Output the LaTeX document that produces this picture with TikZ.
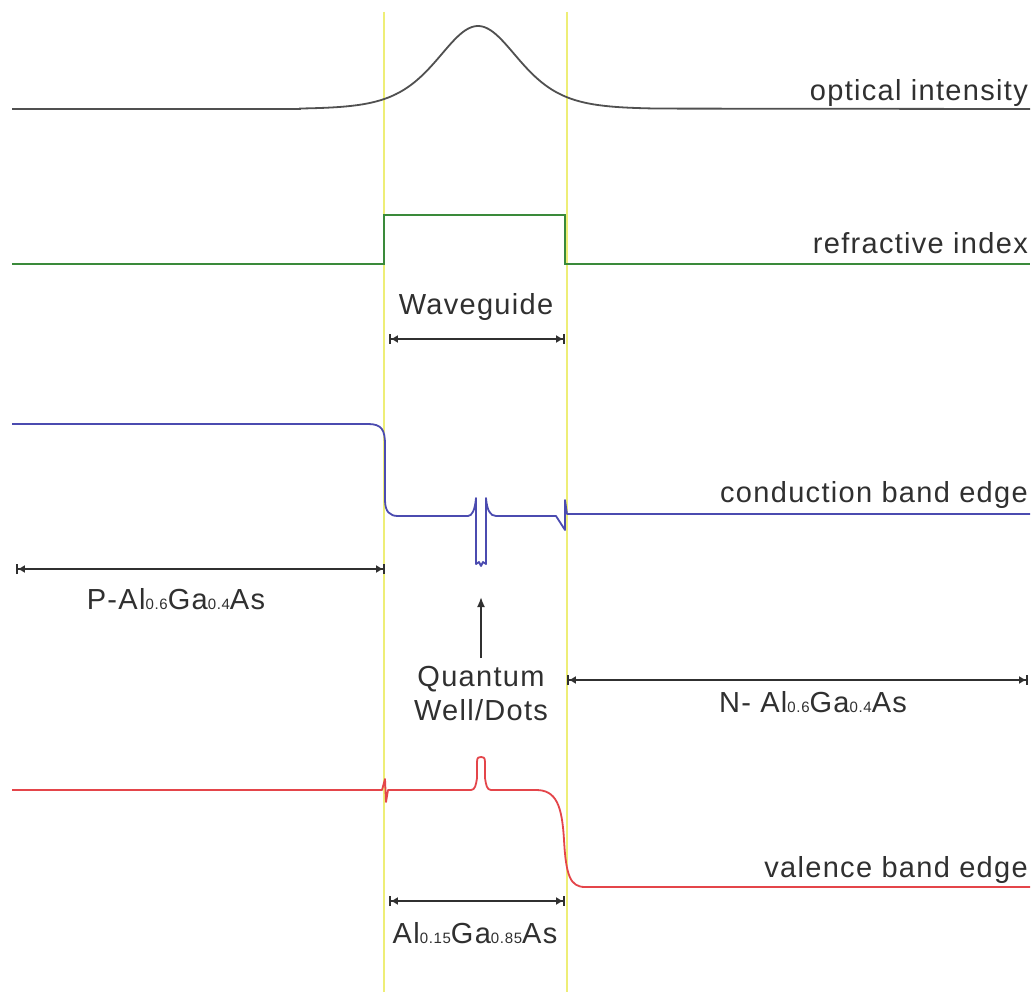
\documentclass[tikz,border=0pt]{standalone}
\usepackage{fontspec}
\setmainfont{Liberation Sans}[LetterSpace=4.5]
\usetikzlibrary{arrows.meta}
\definecolor{guide}{HTML}{EEEE77}
\definecolor{optc}{HTML}{505050}
\definecolor{refc}{HTML}{3A8A3A}
\definecolor{cbc}{HTML}{4B4BB0}
\definecolor{vbc}{HTML}{E4454A}
\definecolor{txt}{HTML}{303030}
\newcommand\sbs[1]{{\fontsize{15}{15}\selectfont #1}}
\tikzset{
  lbl/.style={text=txt, inner sep=0pt, font=\fontsize{29}{34}\selectfont},
  dim/.style={draw=txt, line width=1.8pt, {Bar[width=10pt]Latex[length=7pt,width=8pt]}-{Latex[length=7pt,width=8pt]Bar[width=10pt]}},
}
\begin{document}
\begin{tikzpicture}[x=1pt,y=-1pt]
\useasboundingbox[fill=white] (0,0) rectangle (1034,992);
% guide lines
\draw[guide, line width=1.3pt] (384,12) -- (384,992);
\draw[guide, line width=1.3pt] (567,12) -- (567,992);
% optical intensity
\draw[optc, line width=1.8pt] (12,109) -- (300,109)
  -- plot[domain=300:660, samples=200] (\x, {109-83*4/(exp((\x-478)/54.5)+exp(-(\x-478)/54.5))^2})
  -- (1030,109);
% refractive index
\draw[refc, line width=1.8pt] (12,264) -- (384,264) -- (384,215) -- (565,215) -- (565,264) -- (1030,264);
% conduction band
\draw[cbc, line width=1.8pt, line join=round] (12,424) -- (368,424)
  .. controls (382,424) and (385,430) .. (385,445) -- (385,500)
  .. controls (385,512) and (390,516) .. (398,516) -- (468,516)
  .. controls (472,516) and (475,510) .. (476,498) -- (476,564) -- (479,562) -- (481,566) -- (483,562) -- (486,564) -- (486,498)
  .. controls (487,510) and (490,516) .. (496,516) -- (556,516) -- (565,530) -- (565,500) -- (567,514) -- (1030,514);
% valence band
\draw[vbc, line width=1.8pt, line join=round] (12,790) -- (382,790) -- (385,779) -- (386,802) -- (388,790) -- (471,790)
  .. controls (475,790) and (476,785) .. (477,778) -- (477,762) .. controls (477,757) and (479,757) .. (481,757)
  .. controls (483,757) and (485,757) .. (485,762) -- (485,778) .. controls (486,785) and (487,790) .. (491,790)
  -- (536,790) .. controls (556,790) and (562,805) .. (564,840) .. controls (566,875) and (570,887) .. (585,887) -- (1030,887);
% dimension arrows
\coordinate (wgL) at (389,339); \coordinate (wgR) at (565,339);
\draw[dim] (wgL) -- (wgR);
\node[lbl, anchor=base] (wg) at (476,315) {Waveguide};
\coordinate (pL) at (16,569); \coordinate (pR) at (385,569);
\draw[dim] (pL) -- (pR);
\node[lbl, anchor=base] (pl) at (176,609) {P-Al\sbs{0.6}Ga\sbs{0.4}As};
\coordinate (nL) at (567,680); \coordinate (nR) at (1028,680);
\draw[dim] (nL) -- (nR);
\node[lbl, anchor=base] (nl) at (813,712) {N- Al\sbs{0.6}Ga\sbs{0.4}As};
\coordinate (aL) at (389,901); \coordinate (aR) at (565,901);
\draw[dim] (aL) -- (aR);
\node[lbl, anchor=base] (al) at (475,943) {Al\sbs{0.15}Ga\sbs{0.85}As};
% quantum well label
\node[lbl, align=center, anchor=north] (qw) at (481,666) {Quantum\\Well/Dots};
\coordinate (qtip) at (481,597);
\draw[draw=txt, line width=1.8pt, -{Latex[length=10pt,width=8pt]}] (qw.north) ++(0,-8) -- (qtip);
% right labels
\node[lbl, anchor=base east] (oi) at (1028,101) {optical intensity};
\node[lbl, anchor=base east] (ri) at (1028,254) {refractive index};
\node[lbl, anchor=base east] (cb) at (1028,502) {conduction band edge};
\node[lbl, anchor=base east] (vb) at (1028,877) {valence band edge};
\end{tikzpicture}
\end{document}
